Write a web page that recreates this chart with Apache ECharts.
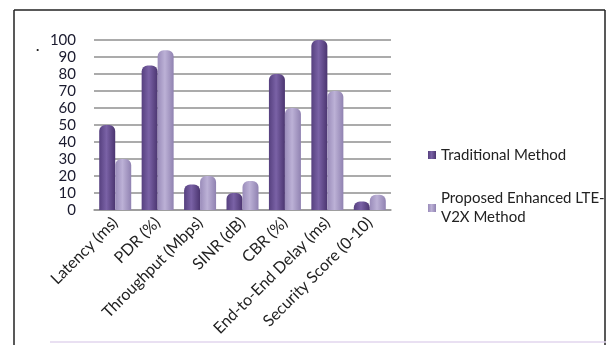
<!DOCTYPE html>
<html>
<head>
<meta charset="utf-8">
<script src="https://cdn.jsdelivr.net/npm/echarts@6/dist/echarts.min.js"></script>
<style>
html,body{margin:0;padding:0;background:#fff;}
#chart{width:606px;height:345px;}
</style>
</head>
<body>
<div id="chart"></div>
<script>
const categories = ['Latency (ms)', 'PDR (%)', 'Throughput (Mbps)', 'SINR (dB)', 'CBR (%)', 'End-to-End Delay (ms)', 'Security Score (0-10)'];
const traditional = [50, 85, 15, 10, 80, 100, 5];
const proposed = [30, 94, 20, 17, 60, 70, 9];
const seriesNames = ['Traditional Method', 'Proposed Enhanced LTE-V2X Method'];
const yTicks = [0, 10, 20, 30, 40, 50, 60, 70, 80, 90, 100];

const chart = echarts.init(document.getElementById('chart'));
const FONT = 'Lato';
function cyl(c1, c2, c3) {
  return new echarts.graphic.LinearGradient(0, 0, 1, 0, [
    {offset: 0, color: c1}, {offset: 0.45, color: c2}, {offset: 1, color: c3}
  ]);
}
chart.setOption({
  animation: false,
  grid: {left: 94, width: 297, top: 40, height: 170},
  xAxis: {
    type: 'category',
    data: categories,
    axisLine: {show: true, lineStyle: {color: '#9a9a9a', width: 1.5}},
    axisTick: {show: false},
    axisLabel: {rotate: 45, interval: 0, margin: 10, fontFamily: FONT, fontSize: 16, color: '#222'}
  },
  yAxis: {
    type: 'value',
    min: yTicks[0], max: yTicks[yTicks.length - 1], interval: 10,
    axisLine: {show: false},
    axisTick: {show: false},
    axisLabel: {fontFamily: FONT, fontSize: 15, color: '#1a1a2e', margin: 18},
    splitLine: {lineStyle: {color: '#8f8f8f', width: 1.5}}
  },
  legend: [
    {
      orient: 'vertical', left: 428, top: 145.5, padding: 0, itemWidth: 8, itemHeight: 8,
      icon: 'rect',
      data: [{name: seriesNames[0]}],
      textStyle: {fontFamily: FONT, fontSize: 15, color: '#222', lineHeight: 19}
    },
    {
      orient: 'vertical', left: 428, top: 179.5, padding: 0, itemWidth: 8, itemHeight: 8,
      icon: 'rect',
      data: [{name: seriesNames[1], textStyle: {padding: [19, 0, 0, 0]}}],
      formatter: function (n) { return 'Proposed Enhanced LTE-\nV2X Method'; },
      textStyle: {fontFamily: FONT, fontSize: 15, color: '#222', lineHeight: 19}
    }
  ],
  series: [
    {
      name: seriesNames[0], type: 'bar', data: traditional, barWidth: 16, barGap: '0%',
      itemStyle: {color: cyl('#56407f', '#7a62a6', '#4b3570'), borderRadius: [6, 6, 0, 0]}
    },
    {
      name: seriesNames[1], type: 'bar', data: proposed, barWidth: 16, barGap: '0%',
      itemStyle: {color: cyl('#9a8cba', '#bcb1d6', '#9082b1'), borderRadius: [6, 6, 0, 0]}
    }
  ],
  graphic: [
    {type: 'line', shape: {x1: 14, y1: 10, x2: 14, y2: 345}, style: {stroke: '#222', lineWidth: 1.5}, silent: true},
    {type: 'line', shape: {x1: 14, y1: 10, x2: 605, y2: 10}, style: {stroke: '#222', lineWidth: 1.5}, silent: true},
    {type: 'line', shape: {x1: 605, y1: 10, x2: 605, y2: 345}, style: {stroke: '#222', lineWidth: 1.5}, silent: true},
    {type: 'line', shape: {x1: 50, y1: 342, x2: 606, y2: 342}, style: {stroke: '#e2d6ee', lineWidth: 1.5}, silent: true},
    {type: 'text', left: 36, top: 39, style: {text: '.', font: 'bold 14px Lato', fill: '#222'}, silent: true}
  ]
});
</script>
</body>
</html>
